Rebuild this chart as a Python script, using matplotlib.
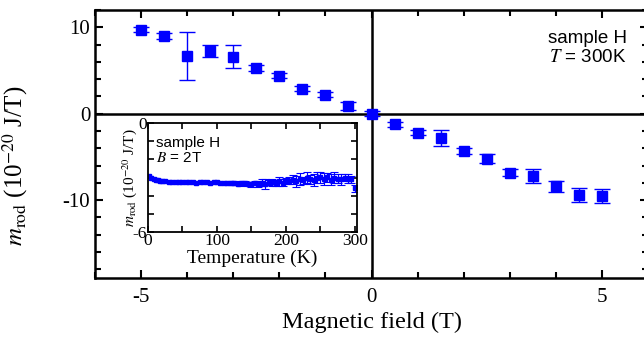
import matplotlib
matplotlib.use('Agg')
import matplotlib.pyplot as plt
from matplotlib.ticker import MultipleLocator, FixedLocator

plt.rcParams['font.family'] = 'Liberation Serif'
plt.rcParams['mathtext.fontset'] = 'stix'
plt.rcParams['axes.unicode_minus'] = False

# main panel: moment vs field at 300 K
field = [-5, -4.5, -4, -3.5, -3, -2.5, -2, -1.5, -1, -0.5, 0,
         0.5, 1, 1.5, 2, 2.5, 3, 3.5, 4, 4.5, 5]
m_rod = [9.7, 9.0, 6.7, 7.3, 6.6, 5.3, 4.4, 2.9, 2.2, 0.9, 0.0,
         -1.2, -2.2, -2.8, -4.3, -5.2, -6.8, -7.2, -8.4, -9.4, -9.5]
m_err = [0.3, 0.3, 2.8, 0.7, 1.3, 0.3, 0.3, 0.3, 0.3, 0.5, 0.3,
         0.3, 0.3, 0.9, 0.3, 0.5, 0.4, 0.8, 0.6, 0.8, 0.8]

# inset: moment vs temperature at 2 T
temp = [2, 5, 8, 11, 14, 17, 20, 25, 30, 35, 40, 45, 50, 55, 60, 65, 70, 75,
        80, 85, 90, 95, 100, 105, 110, 115, 120, 125, 130, 135, 140, 145, 150,
        155, 160, 165, 170, 175, 180, 185, 190, 195, 200, 205, 210, 215, 220,
        225, 230, 235, 240, 245, 250, 255, 260, 265, 270, 275, 280, 285, 290,
        295, 300]
m_temp = [-2.93, -3.05, -3.1, -3.14, -3.16, -3.18, -3.2, -3.22, -3.24, -3.25,
          -3.24, -3.26, -3.26, -3.27, -3.26, -3.26, -3.28, -3.27, -3.27, -3.26,
          -3.28, -3.27, -3.27, -3.3, -3.31, -3.33, -3.31, -3.3, -3.34, -3.32,
          -3.31, -3.35, -3.38, -3.3, -3.35, -3.28, -3.36, -3.28, -3.26, -3.3,
          -3.22, -3.28, -3.2, -3.18, -3.12, -3.2, -3.08, -3.16, -3.02, -3.1,
          -3.14, -3.02, -2.98, -3.08, -2.98, -3.12, -3.02, -3.08, -3.1, -3.0,
          -3.06, -3.1, -3.6]
t_err = [0, 0, 0, 0, 0, 0, 0, 0, 0, 0, 0, 0, 0, 0, 0, 0, 0, 0, 0, 0, 0, 0,
         0, 0, 0, 0, 0.1, 0.12, 0.1, 0.15, 0.12, 0.1, 0.15, 0.12, 0.15, 0.2,
         0.25, 0.15, 0.2, 0.15, 0.25, 0.2, 0.15, 0.2, 0.25, 0.3, 0.35, 0.2,
         0.3, 0.25, 0.35, 0.3, 0.3, 0.35, 0.25, 0.3, 0.3, 0.25, 0.3, 0.2,
         0.25, 0.2, 0.2]

blue = '#0000ff'

fig = plt.figure(figsize=(6.44, 3.39), dpi=100)
ax = fig.add_axes([95/644, 1-278/339, (648-95)/644, (278-10)/339])

ax.axhline(0, color='black', lw=1.8, zorder=1)
ax.axvline(0, color='black', lw=1.8, zorder=1)
ax.errorbar(field, m_rod, yerr=m_err, fmt='s', color=blue, ms=7.5,
            elinewidth=1, capsize=5.5, capthick=1, zorder=3)

ax.set_xlim(-6, 6)
ax.set_ylim(-19, 12)
ax.xaxis.set_major_locator(MultipleLocator(5))
ax.xaxis.set_minor_locator(MultipleLocator(1))
ax.yaxis.set_major_locator(MultipleLocator(10))
ax.yaxis.set_minor_locator(MultipleLocator(2))
ax.tick_params(which='both', direction='in', top=True, right=True,
               width=1.5, labelsize=15)
ax.tick_params(axis='x', pad=7)
ax.tick_params(which='major', length=6)
ax.tick_params(which='minor', length=4)
for s in ax.spines.values():
    s.set_linewidth(1.8)
ax.set_xlabel('Magnetic field (T)', fontsize=17.5, labelpad=4)
ax.set_ylabel(r'$m_{\rm rod}$ (10$^{-20}$ J/T)', fontsize=18)
ax.yaxis.set_label_coords(-0.118, 0.42)
ax.text(0.891, 0.858, 'sample H\n$\\mathit{T}$ = 300K', transform=ax.transAxes,
        ha='center', va='center', fontsize=13.5, family='Liberation Sans',
        linespacing=1.1)

# inset
ins = fig.add_axes([148/644, 1-232/339, (357-148)/644, (232-123)/339])
ins.errorbar(temp, m_temp, yerr=t_err, fmt='s', color=blue, ms=3.5,
             elinewidth=0.8, capsize=3, capthick=0.8)
ins.set_xlim(0, 303)
ins.set_ylim(-6, 0)
ins.xaxis.set_major_locator(MultipleLocator(100))
ins.xaxis.set_minor_locator(MultipleLocator(50))
ins.yaxis.set_major_locator(FixedLocator([-6, 0]))
ins.yaxis.set_minor_locator(MultipleLocator(1))
ins.tick_params(which='both', direction='in', top=True, right=True,
                width=1.2, labelsize=12.5, pad=1)
ins.tick_params(which='major', length=4)
ins.tick_params(which='minor', length=4)
for s in ins.spines.values():
    s.set_linewidth(1.3)
ins.set_xlabel('Temperature (K)', fontsize=14, labelpad=0)
ins.set_ylabel(r'$m_{\rm rod}$ (10$^{-20}$ J/T)', fontsize=11, labelpad=-5)
ins.text(0.04, 0.88, 'sample H\n$\\mathit{B}$ = 2T', transform=ins.transAxes,
         ha='left', va='top', fontsize=11, family='Liberation Sans',
         linespacing=1.05)

fig.savefig('out.png', dpi=100)
